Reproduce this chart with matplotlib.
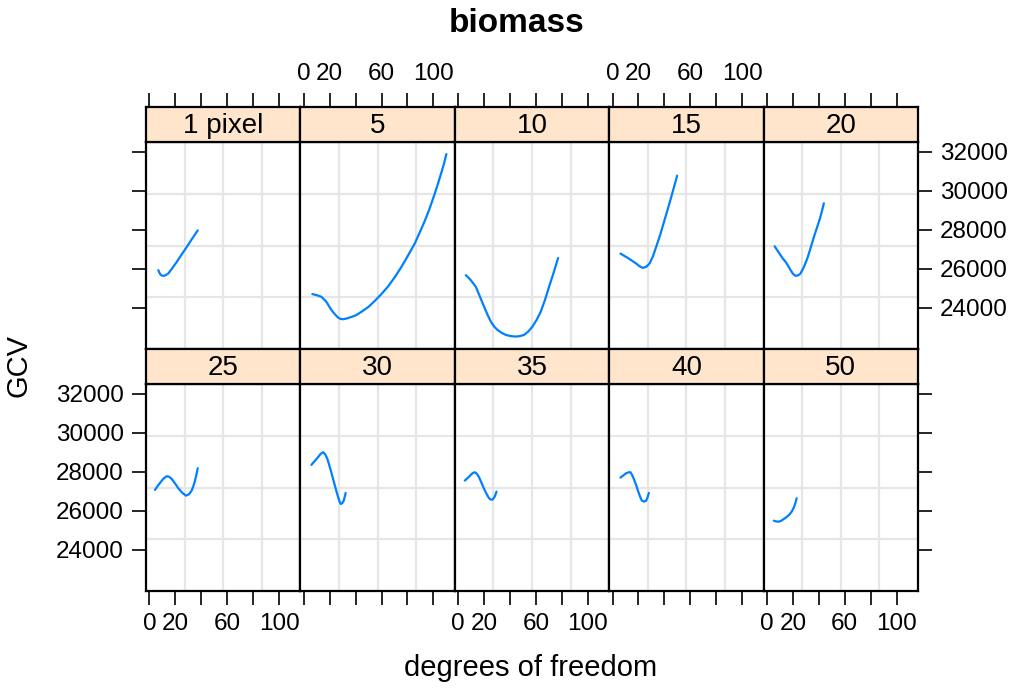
import matplotlib.pyplot as plt

plt.rcParams['font.family'] = ['Liberation Sans', 'DejaVu Sans']

# strip labels (pixel size) in lattice order
panel_names = ['1 pixel', '5', '10', '15', '20', '25', '30', '35', '40', '50']

# GCV curves: degrees of freedom vs GCV
df_1 = [6.9, 7.8, 8.7, 10.0, 11.3, 12.8, 14.6, 17.8, 21.1, 24.9, 28.8, 33.0, 37.3]
gcv_1 = [25936, 25800, 25700, 25655, 25645, 25690, 25768, 26050, 26359, 26740,
         27123, 27550, 27974]

df_5 = [6.6, 9.7, 13.6, 17.4, 21.3, 24.0, 26.5, 28.5, 30.3, 33.5, 36.7, 40.0,
        44.4, 50.0, 54.7, 60.0, 65.0, 70.0, 75.3, 80.0, 85.6, 90.0, 93.3, 97.0,
        101.0, 103.6, 106.2, 108.2, 110.0]
gcv_5 = [24713, 24662, 24575, 24320, 23897, 23680, 23505, 23440, 23423, 23470,
         23540, 23620, 23800, 24060, 24360, 24720, 25100, 25560, 26100, 26640,
         27300, 27950, 28450, 29080, 29850, 30380, 30950, 31400, 31883]

df_10 = [5.9, 7.8, 9.7, 13.6, 16.8, 20.0, 22.6, 25.2, 27.8, 30.3, 33.5, 36.7,
         40.5, 44.4, 47.6, 50.8, 54.0, 57.3, 60.5, 63.7, 66.9, 70.1, 73.6, 77.1]
gcv_10 = [25681, 25560, 25426, 25085, 24580, 24065, 23660, 23301, 23050, 22878,
          22730, 22623, 22560, 22537, 22560, 22623, 22790, 23046, 23390, 23811,
          24400, 25085, 25800, 26562]

df_15 = [6.1, 9.0, 11.8, 15.0, 18.2, 21.0, 23.4, 26.0, 28.5, 31.0, 33.6, 36.8,
         40.0, 42.6, 45.2, 47.5, 49.8]
gcv_15 = [26787, 26670, 26562, 26420, 26277, 26130, 26053, 26110, 26277, 26620,
          27123, 27760, 28484, 29070, 29671, 30220, 30777]

df_20 = [5.9, 8.2, 10.5, 12.5, 14.4, 16.3, 18.2, 20.2, 22.1, 24.0, 25.9, 28.5,
         31.1, 33.6, 36.2, 38.5, 40.8, 42.4, 43.9]
gcv_20 = [27159, 26930, 26700, 26510, 26359, 26160, 25936, 25740, 25645, 25670,
          25768, 26100, 26532, 27060, 27633, 28100, 28570, 28960, 29365]

df_25 = [4.3, 6.2, 8.2, 10.8, 13.3, 15.3, 17.2, 19.8, 22.3, 25.2, 28.2, 30.5,
         32.6, 34.0, 35.2, 36.3, 37.3]
gcv_25 = [27075, 27260, 27434, 27650, 27778, 27750, 27640, 27410, 27163, 26940,
          26783, 26850, 27039, 27280, 27552, 27860, 28188]

df_30 = [5.9, 8.5, 11.0, 13.0, 14.9, 16.5, 18.2, 20.4, 22.6, 24.6, 26.5, 27.5,
         28.5, 29.7, 30.8, 31.6, 32.3]
gcv_30 = [28358, 28560, 28753, 28920, 29009, 28900, 28666, 28180, 27640, 27150,
          26701, 26500, 26357, 26400, 26526, 26720, 26921]

df_35 = [5.1, 7.2, 9.2, 11.0, 12.8, 14.5, 16.1, 18.0, 20.0, 22.0, 23.8, 25.2,
         26.5, 28.1, 29.6]
gcv_35 = [27552, 27680, 27809, 27930, 27983, 27900, 27727, 27440, 27127, 26860,
          26650, 26580, 26578, 26720, 26988]

df_40 = [6.1, 8.3, 10.5, 12.2, 13.8, 15.4, 16.9, 18.5, 20.0, 21.3, 22.6, 24.3,
         25.9, 27.0, 28.0]
gcv_40 = [27706, 27820, 27932, 27975, 27983, 27800, 27552, 27260, 26957, 26720,
          26526, 26480, 26526, 26700, 26921]

df_50 = [5.3, 7.2, 9.2, 11.1, 13.0, 15.4, 17.7, 19.3, 20.8, 21.9, 22.9]
gcv_50 = [25500, 25460, 25449, 25500, 25588, 25700, 25844, 25990, 26188, 26400, 26649]

curves = [(df_1, gcv_1), (df_5, gcv_5), (df_10, gcv_10), (df_15, gcv_15),
          (df_20, gcv_20), (df_25, gcv_25), (df_30, gcv_30), (df_35, gcv_35),
          (df_40, gcv_40), (df_50, gcv_50)]

x_ticks = [0, 20, 40, 60, 80, 100]
x_tick_labels = ['0', '20', '', '60', '', '100']
y_ticks = [24000, 26000, 28000, 30000, 32000]

W, H = 1019, 688
fig = plt.figure(figsize=(W / 100, H / 100), dpi=100)

# layout in pixels
col_left = 146
col_w = 154.4
panel_h = 207
strip_h = 35
row_top = [142, 384]  # top of each panel (below its strip)

tick_kw = dict(direction='out', length=10, width=1.2, labelsize=17.5, pad=6,
               color='black')
line_col = '#0080ff'
grid_col = '#e6e6e6'
xlim = (-2.6, 116.5)
ylim = (21900, 32500)

for i, name in enumerate(panel_names):
    r, c = divmod(i, 5)
    x0 = col_left + c * col_w
    top = row_top[r]
    ax = fig.add_axes([x0 / W, 1 - (top + panel_h) / H, col_w / W, panel_h / H])
    sx = fig.add_axes([x0 / W, 1 - top / H, col_w / W, strip_h / H])

    # panel grid: quarters of the panel
    for f in (0.25, 0.5, 0.75):
        ax.plot([f, f], [0, 1], transform=ax.transAxes, color=grid_col, lw=1.6, zorder=0)
        ax.plot([0, 1], [f, f], transform=ax.transAxes, color=grid_col, lw=1.6, zorder=0)

    x, y = curves[i]
    ax.plot(x, y, color=line_col, lw=1.6, solid_capstyle='round',
            solid_joinstyle='round')
    ax.set_xlim(*xlim)
    ax.set_ylim(*ylim)

    for a in (ax, sx):
        for s in a.spines.values():
            s.set_linewidth(1.6)
            s.set_color('black')

    # x axis
    ax.set_xticks(x_ticks)
    if r == 1:
        ax.tick_params(axis='x', bottom=True, top=False, **tick_kw)
        ax.set_xticklabels(x_tick_labels if c % 2 == 0 else [''] * len(x_ticks))
    else:
        ax.tick_params(axis='x', bottom=False, top=False, labelbottom=False)

    # y axis
    ax.set_yticks(y_ticks)
    ax.set_yticklabels([str(v) for v in y_ticks])
    ax.tick_params(axis='y', left=(c == 0), right=(c == 4),
                   labelleft=(c == 0 and r == 1), labelright=(c == 4 and r == 0),
                   **tick_kw)

    # strip
    sx.set_facecolor('#ffe5cc')
    sx.set_xlim(*xlim)
    sx.set_yticks([])
    sx.text(0.5, 0.47, name, transform=sx.transAxes, ha='center', va='center',
            fontsize=20)
    if r == 0:
        sx.set_xticks(x_ticks)
        sx.set_xticklabels(x_tick_labels if c % 2 == 1 else [''] * len(x_ticks))
        sx.tick_params(axis='x', top=True, bottom=False, labeltop=True,
                       labelbottom=False, **tick_kw)
    else:
        sx.set_xticks([])

fig.text(517 / W, 1 - 23 / H, 'biomass', ha='center', va='center',
         fontsize=24, fontweight='bold')
fig.text(531 / W, 1 - 668 / H, 'degrees of freedom', ha='center', va='center',
         fontsize=21)
fig.text(19 / W, 1 - 366 / H, 'GCV', ha='center', va='center', rotation=90,
         fontsize=21)

fig.savefig('out.png', dpi=100, facecolor='white')
